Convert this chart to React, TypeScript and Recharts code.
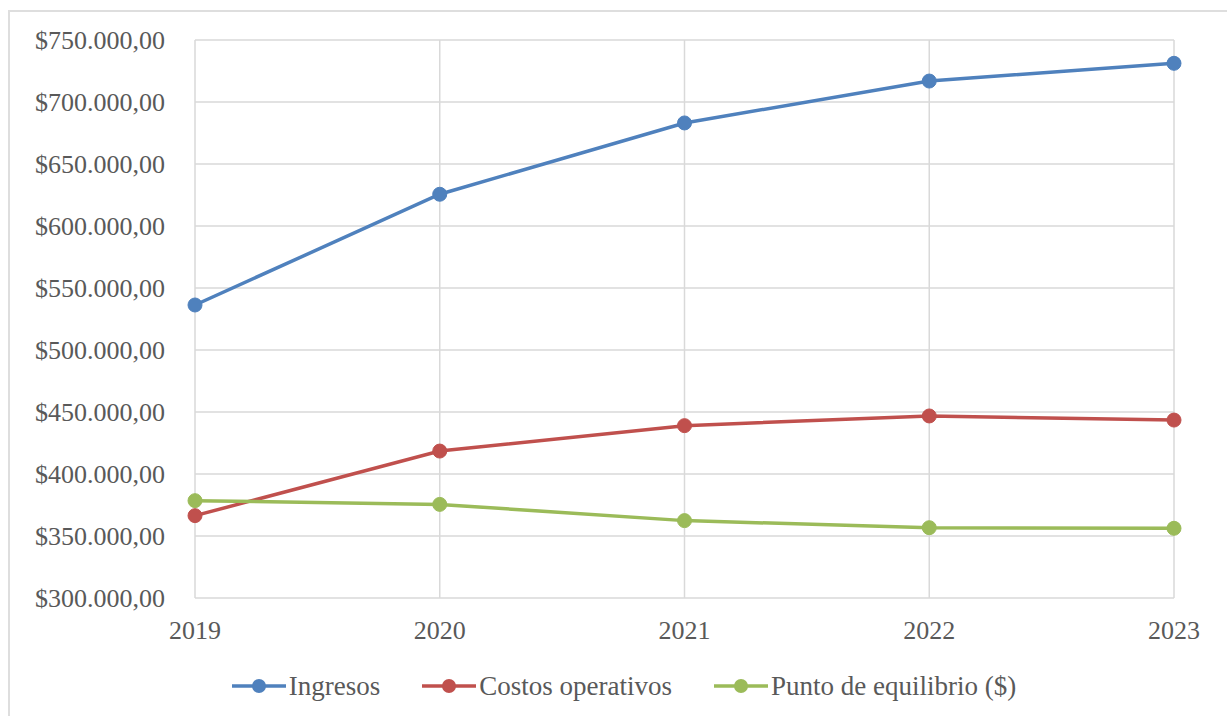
import { LineChart, Line, XAxis, YAxis, CartesianGrid, Legend } from 'recharts';

const years = ['2019', '2020', '2021', '2022', '2023'];
const ingresos = [536300, 625600, 683100, 716900, 731200];
const costosOperativos = [366400, 418500, 439000, 446800, 443500];
const puntoEquilibrio = [378500, 375500, 362400, 356700, 356200];
const yTicks = [300000, 350000, 400000, 450000, 500000, 550000, 600000, 650000, 700000, 750000];

const SERIES = [
  { key: 'ingresos', name: 'Ingresos', color: '#4F81BD' },
  { key: 'costos', name: 'Costos operativos', color: '#C0504D' },
  { key: 'punto', name: 'Punto de equilibrio ($)', color: '#9BBB59' },
];

const data = years.map((year, i) => ({
  year,
  ingresos: ingresos[i],
  costos: costosOperativos[i],
  punto: puntoEquilibrio[i],
}));

const FONT = '"Liberation Serif", "Times New Roman", serif';
const TEXT_COLOR = '#595959';
const GRID_COLOR = '#d9d9d9';

// $750.000,00 style: dot thousands separator, comma decimals
const formatMoney = (v: number) => {
  const whole = Math.round(v).toString().replace(/\B(?=(\d{3})+(?!\d))/g, '.');
  return `$${whole},00`;
};

const renderLegend = () => (
  <div
    style={{
      display: 'flex',
      justifyContent: 'center',
      alignItems: 'center',
      height: 44,
      paddingLeft: 74,
      fontFamily: FONT,
      fontSize: 27,
      color: TEXT_COLOR,
    }}
  >
    {SERIES.map((s, i) => (
      <div key={s.key} style={{ display: 'flex', alignItems: 'center', marginLeft: i === 0 ? 0 : 42 }}>
        <svg width={54} height={16} style={{ marginRight: 3 }}>
          <line x1={0} y1={8} x2={54} y2={8} stroke={s.color} strokeWidth={3.5} />
          <circle cx={27} cy={8} r={7} fill={s.color} />
        </svg>
        <span>{s.name}</span>
      </div>
    ))}
  </div>
);

export default function App() {
  return (
    <div style={{ position: 'relative', width: 1227, height: 716, overflow: 'hidden', background: '#fff' }}>
      <style>{'body { margin: 0; }'}</style>
      <div
        style={{
          position: 'absolute',
          left: 8,
          top: 10,
          width: 1300,
          height: 800,
          border: '2px solid #dedede',
        }}
      />
      <LineChart
        width={1227}
        height={716}
        data={data}
        margin={{ top: 40, right: 53, bottom: 8, left: 0 }}
        style={{ position: 'absolute', left: 0, top: 0 }}
      >
        <CartesianGrid stroke={GRID_COLOR} strokeWidth={1.5} />
        <XAxis
          dataKey="year"
          axisLine={false}
          tickLine={false}
          tickSize={0}
          tickMargin={23}
          height={66}
          interval={0}
          tick={{ fill: TEXT_COLOR, fontSize: 26, fontFamily: FONT }}
        />
        <YAxis
          domain={[300000, 750000]}
          ticks={yTicks}
          tickFormatter={formatMoney}
          axisLine={false}
          tickLine={false}
          tickSize={0}
          tickMargin={30}
          width={195}
          interval={0}
          tick={{ fill: TEXT_COLOR, fontSize: 26, fontFamily: FONT }}
        />
        <Legend verticalAlign="bottom" content={renderLegend} wrapperStyle={{ height: 44 }} />
        {SERIES.map((s) => (
          <Line
            key={s.key}
            type="linear"
            dataKey={s.key}
            name={s.name}
            stroke={s.color}
            strokeWidth={3.5}
            dot={{ r: 7, fill: s.color, stroke: s.color, strokeWidth: 1 }}
            activeDot={false}
            isAnimationActive={false}
          />
        ))}
      </LineChart>
    </div>
  );
}
